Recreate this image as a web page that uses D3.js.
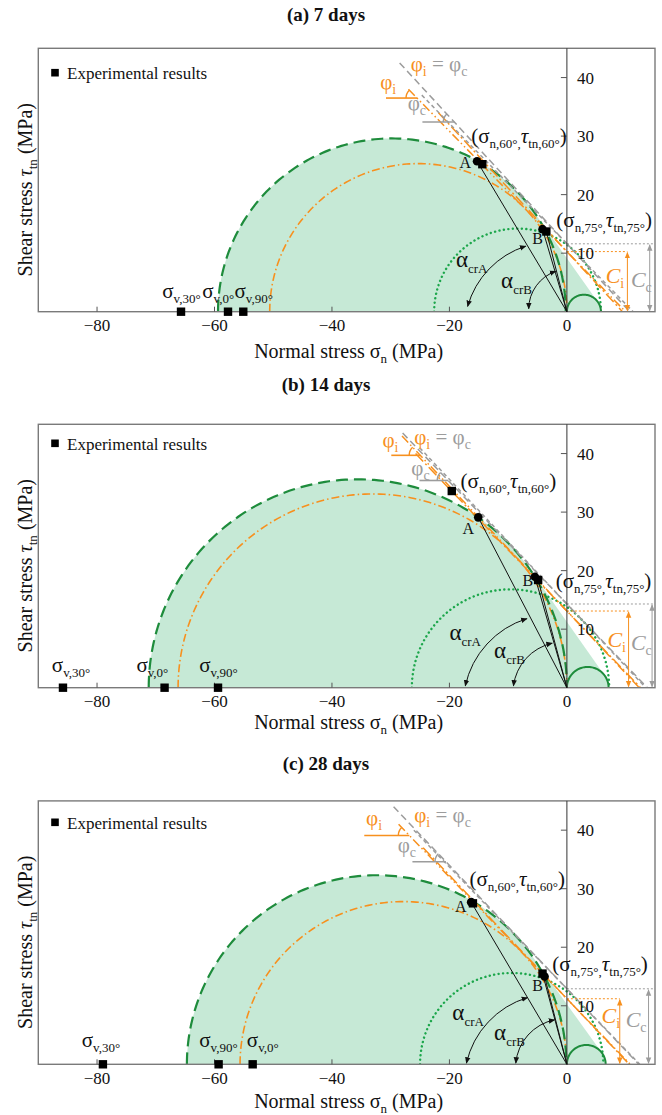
<!DOCTYPE html>
<html><head><meta charset="utf-8">
<script src="https://cdn.jsdelivr.net/npm/d3@7"></script>
<style>body{margin:0;background:#fff} svg{display:block} text{font-family:"Liberation Serif","Times New Roman",serif}</style>
</head><body><svg id="c" width="662" height="1115"></svg>
<script>
// ---------------- data ----------------
const panelTitles = ["(a) 7 days", "(b) 14 days", "(c) 28 days"];
const xTickValues = [-80, -60, -40, -20, 0];
const yTickValues = [10, 20, 30, 40];
const vLabels = ["v,30°", "v,0°", "v,90°"];
const vSigma = [[-65.7, -57.7, -55.1], [-85.8, -68.5, -59.4], [-79.0, -53.5, -59.3]];
const vLabelSigma = [[-68.9, -62.1, -56.6], [-87.7, -73.3, -62.6], [-82.6, -54.5, -62.6]];
const vLabelTau = [2.4, 2.6, 3.0];
const bigCenter = [-29.8, -35.6, -32.4];
const bigRadius = [29.6, 35.6, 32.3];
const orangeCenter = [-25.3, -33.1, -27.85];
const orangeRadius = [25.3, 33.1, 27.8];
const dotCenter = [-8.4, -9.6, -9.4];
const dotRadius = [14.2, 16.8, 15.6];
const tensCenter = [2.9, 3.55, 3.3];
const tensRadius = [2.9, 3.55, 3.3];
const Ci = [10.27, 13.1, 11.2];
const Cc = [11.6, 14.3, 12.9];
const tanPhiI = [1.028, 1.065, 1.04];
const tanPhiC = [1.085, 1.044, 1.054];
const lineTopTau = [[38, 34, 42.5, 37], [43, 40, 43.5, 41], [41, 37, 44, 40]];
const pointA = [[-15.3, 25.7], [-15.1, 29.1], [-16.3, 27.7]];
const pointB = [[-4.15, 14.1], [-5.45, 18.96], [-3.8, 15.0]];
const expA = [[-14.4, 25.2], [-19.6, 33.6], [-16.0, 27.5]];
const expB = [[-3.5, 13.7], [-4.9, 18.4], [-4.15, 15.5]];
const labelA = [[-16.3, 24.5], [-15.8, 26.3], [-17.1, 26.1]];
const labelB = [[-5.9, 11.5], [-7.55, 17.3], [-5.9, 12.6]];
const label60 = [[-16.3, 28.8], [-18.1, 34.1], [-16.6, 30.4]];
const label75 = [[-1.8, 14.4], [-1.9, 17.1], [-2.5, 15.9]];
const arcCrA = [[[-16.9, 0.9], [-7.0, 11.2]], [[-17.3, 0.3], [-6.8, 11.8]], [[-17.1, 0.2], [-6.7, 11.4]]];
const arcCrB = [[[-6.5, 0.5], [-1.9, 6.9]], [[-9.1, 0.3], [-2.5, 7.6]], [[-8.7, 0.2], [-2.1, 7.6]]];
const labelCrA = [[-18.9, 7.7], [-20.0, 8.2], [-19.5, 7.5]];
const labelCrB = [[-11.2, 4.1], [-12.4, 5.1], [-12.4, 4.1]];
const arrowCiSigma = [10.3, 10.5, 9.0];
const arrowCcSigma = [14.1, 14.5, 13.9];
const labelCi = [[6.6, 4.9], [6.9, 7.0], [5.9, 7.0]];
const labelCc = [[10.9, 4.3], [10.9, 6.5], [10.0, 6.4]];
const phiILabel = [[-31.8, 38.0], [-31.4, 41.2], [-34.2, 40.8]];
const phiEqLabel = [[-26.6, 41.2], [-26.0, 41.7], [-26.0, 41.4]];
const phiCLabel = [[-27.1, 34.5], [-26.5, 36.4], [-28.8, 36.3]];
const phiIBar = [[-30.8, 36.5], [-29.9, 39.7], [-34.5, 39.1]];
const phiCBar = [[-24.6, 32.4], [-25.1, 35.4], [-26.3, 34.6]];

// ---------------- layout / style ----------------
const ORANGE = "#f7901e", GRAY = "#9c9c9c", DGREEN = "#1e8c3c", DOTGREEN = "#1ca64b", FILL = "#c6e9d6";
const axisY = [311.7, 687.7, 1064.3];
const boxH = 263.4;
const titleY = [21, 391, 770];
const xLabelY = [358, 728.5, 1107.5];
const legendY = [72.7, 443.3, 822.3];

const svg = d3.select("#c");
svg.append("rect").attr("width", 662).attr("height", 1115).attr("fill", "#fff");
const defs = svg.append("defs");
function marker(id, color) {
  defs.append("marker").attr("id", id).attr("viewBox", "0 0 10 10").attr("refX", 9).attr("refY", 5)
    .attr("markerWidth", 6.5).attr("markerHeight", 6.5).attr("orient", "auto-start-reverse")
    .append("path").attr("d", "M0,0.8 L10,5 L0,9.2 z").attr("fill", color);
}
marker("mk", "#111"); marker("mo", ORANGE); marker("mg", GRAY);

function rich(g, x, y, parts, anchor) {
  const t = g.append("text").attr("x", x).attr("y", y).attr("text-anchor", anchor || "start");
  let cur = 0;
  parts.forEach(p => {
    const off = p.dy || 0;
    const ts = t.append("tspan").attr("dy", off - cur).attr("font-size", p.size).attr("fill", p.color || "#111").text(p.t);
    if (p.italic) ts.attr("font-style", "italic");
    if (p.bold) ts.attr("font-weight", "bold");
    cur = off;
  });
  return t;
}
function arcPts(c, r, a0, a1, n) {
  n = n || 160;
  return d3.range(n + 1).map(k => { const a = a0 + (a1 - a0) * k / n; return [c + r * Math.cos(a), r * Math.sin(a)]; });
}

const x = d3.scaleLinear().domain([-90, 15]).range([38.3, 655]);

panelTitles.forEach((title, i) => {
  const y = d3.scaleLinear().domain([0, 45]).range([axisY[i], axisY[i] - boxH]);
  const line = d3.line().x(d => x(d[0])).y(d => y(d[1]));
  const g = svg.append("g");
  const clipId = "clip" + i;
  defs.append("clipPath").attr("id", clipId).append("rect")
    .attr("x", x(-90)).attr("y", y(45)).attr("width", x(15) - x(-90)).attr("height", boxH);
  const pg = g.append("g").attr("clip-path", `url(#${clipId})`);

  // title
  g.append("text").attr("x", 326).attr("y", titleY[i]).attr("text-anchor", "middle")
    .attr("font-size", 19).attr("font-weight", "bold").attr("fill", "#111").text(title);

  // fill region: big circle + common tangent + tension circle
  const c1 = bigCenter[i], r1 = bigRadius[i], c2 = tensCenter[i], r2 = tensRadius[i];
  const Hh = (c2 * r1 - c1 * r2) / (r1 - r2);
  const th = Math.asin(r1 / (Hh - c1));
  const aT = Math.PI / 2 - th;
  const fillPts = arcPts(c1, r1, Math.PI, aT).concat(arcPts(c2, r2, aT, 0, 60));
  fillPts.push([c2 + r2, 0]);
  pg.append("path").attr("d", line(fillPts) + "Z").attr("fill", FILL).attr("stroke", "none");

  // dotted green circle
  pg.append("path").attr("d", line(arcPts(dotCenter[i], dotRadius[i], Math.PI, 0)))
    .attr("fill", "none").attr("stroke", DOTGREEN).attr("stroke-width", 2.4)
    .attr("stroke-dasharray", "0.1,4.4").attr("stroke-linecap", "round");
  // orange dash-dot circle
  pg.append("path").attr("d", line(arcPts(orangeCenter[i], orangeRadius[i], Math.PI, 0)))
    .attr("fill", "none").attr("stroke", ORANGE).attr("stroke-width", 1.6)
    .attr("stroke-dasharray", "8,3,1.5,3");
  // big green dashed circle
  pg.append("path").attr("d", line(arcPts(c1, r1, Math.PI, 0)))
    .attr("fill", "none").attr("stroke", DGREEN).attr("stroke-width", 2.2)
    .attr("stroke-dasharray", "12,6");
  // tension circle
  pg.append("path").attr("d", line(arcPts(c2, r2, Math.PI, 0, 60)))
    .attr("fill", "none").attr("stroke", DGREEN).attr("stroke-width", 2);

  // envelope lines
  const envs = [
    { C: Ci[i], m: tanPhiI[i], top: lineTopTau[i][0], color: ORANGE, dash: "9,3,1.5,3,1.5,3" },
    { C: Ci[i], m: tanPhiC[i], top: lineTopTau[i][1], color: ORANGE, dash: "11,3,2,3" },
    { C: Cc[i], m: tanPhiC[i], top: lineTopTau[i][2], color: GRAY, dash: "7,4" },
    { C: Cc[i], m: tanPhiI[i], top: lineTopTau[i][3], color: GRAY, dash: "4,3" }
  ];
  envs.forEach(e => {
    const s0 = -(e.top - e.C) / e.m;
    pg.append("path").attr("d", line([[s0, e.top], [e.C / e.m, 0]]))
      .attr("fill", "none").attr("stroke", e.color).attr("stroke-width", 1.5).attr("stroke-dasharray", e.dash);
  });

  // frame
  g.append("rect").attr("x", x(-90)).attr("y", y(45)).attr("width", x(15) - x(-90)).attr("height", boxH)
    .attr("fill", "none").attr("stroke", "#7a7a7a").attr("stroke-width", 1.4);

  // y axis at sigma = 0
  g.append("line").attr("x1", x(0)).attr("x2", x(0)).attr("y1", y(0)).attr("y2", y(45))
    .attr("stroke", "#333").attr("stroke-width", 1);
  yTickValues.forEach(v => {
    g.append("line").attr("x1", x(0) - 6).attr("x2", x(0)).attr("y1", y(v)).attr("y2", y(v)).attr("stroke", "#555");
    g.append("text").attr("x", x(0) + 10).attr("y", y(v)).attr("dy", "0.35em").attr("font-size", 17)
      .attr("fill", "#111").text(v);
  });
  xTickValues.forEach(v => {
    g.append("line").attr("x1", x(v)).attr("x2", x(v)).attr("y1", y(0)).attr("y2", y(0) - 5).attr("stroke", "#555");
    g.append("text").attr("x", x(v)).attr("y", axisY[i] + 19.3).attr("text-anchor", "middle")
      .attr("font-size", 17).attr("fill", "#111").text(d3.format("")(v));
  });

  // cohesion markers
  pg.append("line").attr("x1", x(0)).attr("x2", x(15)).attr("y1", y(Cc[i])).attr("y2", y(Cc[i]))
    .attr("stroke", GRAY).attr("stroke-width", 1).attr("stroke-dasharray", "2,2");
  pg.append("line").attr("x1", x(0)).attr("x2", x(arrowCiSigma[i])).attr("y1", y(Ci[i])).attr("y2", y(Ci[i]))
    .attr("stroke", ORANGE).attr("stroke-width", 1).attr("stroke-dasharray", "2,2");
  g.append("line").attr("x1", x(arrowCiSigma[i])).attr("x2", x(arrowCiSigma[i])).attr("y1", y(0) - 1).attr("y2", y(Ci[i]) + 1)
    .attr("stroke", ORANGE).attr("stroke-width", 1).attr("marker-start", "url(#mo)").attr("marker-end", "url(#mo)");
  g.append("line").attr("x1", x(arrowCcSigma[i])).attr("x2", x(arrowCcSigma[i])).attr("y1", y(0) - 1).attr("y2", y(Cc[i]) + 1)
    .attr("stroke", GRAY).attr("stroke-width", 1).attr("marker-start", "url(#mg)").attr("marker-end", "url(#mg)");
  rich(g, x(labelCi[i][0]), y(labelCi[i][1]), [{ t: "C", size: 22, italic: true, color: ORANGE }, { t: "i", size: 14, dy: 5, color: ORANGE }]);
  rich(g, x(labelCc[i][0]), y(labelCc[i][1]), [{ t: "C", size: 22, italic: true, color: GRAY }, { t: "c", size: 14, dy: 5, color: GRAY }]);

  // angle markers
  function angleMark(bar, C, m, color) {
    const tau = bar[1];
    const sInt = -(tau - C) / m;
    g.append("line").attr("x1", x(bar[0])).attr("x2", x(sInt)).attr("y1", y(tau)).attr("y2", y(tau))
      .attr("stroke", color).attr("stroke-width", 1.6);
    const px = x(sInt), py = y(tau), r = 11;
    const len = Math.hypot(1, m);
    const ex = px + r * (-1 / len), ey = py + r * (-m / len);
    g.append("path").attr("d", `M${px - r},${py} A${r},${r} 0 0 1 ${ex},${ey}`)
      .attr("fill", "none").attr("stroke", color).attr("stroke-width", 1.4);
  }
  angleMark(phiIBar[i], Ci[i], tanPhiI[i], ORANGE);
  angleMark(phiCBar[i], Cc[i], tanPhiC[i], GRAY);
  rich(g, x(phiILabel[i][0]), y(phiILabel[i][1]), [{ t: "φ", size: 21, color: ORANGE }, { t: "i", size: 14, dy: 5, color: ORANGE }]);
  rich(g, x(phiCLabel[i][0]), y(phiCLabel[i][1]), [{ t: "φ", size: 21, color: GRAY }, { t: "c", size: 14, dy: 5, color: GRAY }]);
  rich(g, x(phiEqLabel[i][0]), y(phiEqLabel[i][1]), [
    { t: "φ", size: 21, color: ORANGE }, { t: "i", size: 14, dy: 5, color: ORANGE },
    { t: " = φ", size: 21, color: GRAY }, { t: "c", size: 14, dy: 5, color: GRAY }]);

  // radial lines from origin
  [pointA[i], pointB[i], expB[i]].forEach(p => {
    g.append("line").attr("x1", x(0)).attr("y1", y(0)).attr("x2", x(p[0])).attr("y2", y(p[1]))
      .attr("stroke", "#111").attr("stroke-width", 1);
  });

  // curved double arrows
  [arcCrA[i], arcCrB[i]].forEach(a => {
    const x1 = x(a[0][0]), y1 = y(a[0][1]), x2 = x(a[1][0]), y2 = y(a[1][1]);
    const ox = x(0), oy = y(0);
    const r = (Math.hypot(x1 - ox, y1 - oy) + Math.hypot(x2 - ox, y2 - oy)) / 2;
    g.append("path").attr("d", `M${x1},${y1} A${r},${r} 0 0 1 ${x2},${y2}`)
      .attr("fill", "none").attr("stroke", "#111").attr("stroke-width", 1)
      .attr("marker-start", "url(#mk)").attr("marker-end", "url(#mk)");
  });
  rich(g, x(labelCrA[i][0]), y(labelCrA[i][1]), [{ t: "α", size: 23 }, { t: "crA", size: 13, dy: 6 }]);
  rich(g, x(labelCrB[i][0]), y(labelCrB[i][1]), [{ t: "α", size: 23 }, { t: "crB", size: 13, dy: 6 }]);

  // points
  [pointA[i], pointB[i]].forEach(p => {
    g.append("circle").attr("cx", x(p[0])).attr("cy", y(p[1])).attr("r", 4.3).attr("fill", "#000");
  });
  [expA[i], expB[i]].forEach(p => {
    g.append("rect").attr("x", x(p[0]) - 4.2).attr("y", y(p[1]) - 4.2).attr("width", 8.4).attr("height", 8.4).attr("fill", "#000");
  });
  vSigma[i].forEach(s => {
    g.append("rect").attr("x", x(s) - 4.2).attr("y", y(0) - 4.2).attr("width", 8.4).attr("height", 8.4).attr("fill", "#000");
  });
  vLabels.forEach((lab, k) => {
    rich(g, x(vLabelSigma[i][k]), y(vLabelTau[i]), [{ t: "σ", size: 21 }, { t: lab, size: 13, dy: 5 }]);
  });
  g.append("text").attr("x", x(labelA[i][0])).attr("y", y(labelA[i][1])).attr("text-anchor", "end")
    .attr("font-size", 16).attr("fill", "#111").text("A");
  g.append("text").attr("x", x(labelB[i][0])).attr("y", y(labelB[i][1]))
    .attr("font-size", 16).attr("fill", "#111").text("B");
  rich(g, x(label60[i][0]), y(label60[i][1]), [
    { t: "(σ", size: 21 }, { t: "n,60°,", size: 13, dy: 5 }, { t: "τ", size: 21, italic: true },
    { t: "tn,60°", size: 13, dy: 5 }, { t: ")", size: 21 }]);
  rich(g, x(label75[i][0]), y(label75[i][1]), [
    { t: "(σ", size: 21 }, { t: "n,75°,", size: 13, dy: 5 }, { t: "τ", size: 21, italic: true },
    { t: "tn,75°", size: 13, dy: 5 }, { t: ")", size: 21 }]);

  // legend
  g.append("rect").attr("x", 55 - 3.8).attr("y", legendY[i] - 3.8).attr("width", 7.6).attr("height", 7.6).attr("fill", "#000");
  g.append("text").attr("x", 67).attr("y", legendY[i] + 6.5).attr("font-size", 17).attr("fill", "#111").text("Experimental results");

  // axis titles
  rich(g, (x(-90) + x(15)) / 2 + 2, xLabelY[i], [
    { t: "Normal stress σ", size: 20 }, { t: "n", size: 13, dy: 5 }, { t: " (MPa)", size: 20 }], "middle");
  const yl = g.append("g").attr("transform", `translate(31.5,${axisY[i] - 122}) rotate(-90)`);
  rich(yl, 0, 0, [
    { t: "Shear stress ", size: 20 }, { t: "τ", size: 20, italic: true }, { t: "tn", size: 13, dy: 5 }, { t: " (MPa)", size: 20 }], "middle");
});
</script>
</body></html>
